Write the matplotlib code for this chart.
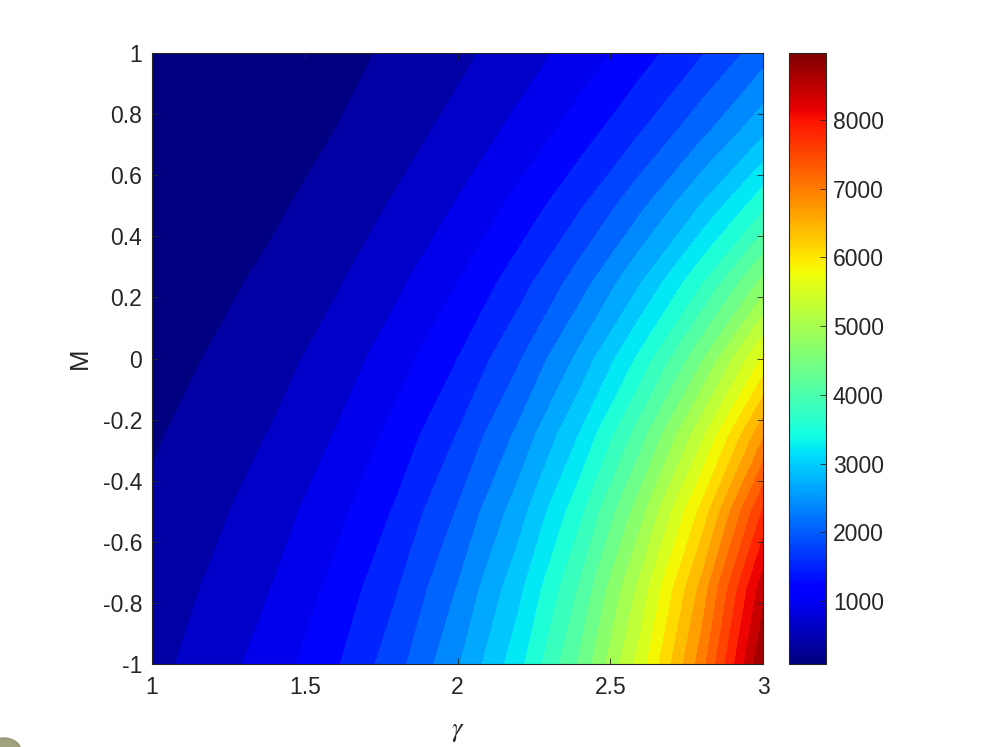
import numpy as np
import matplotlib.pyplot as plt
from matplotlib import cm, colors
from matplotlib.patches import Ellipse

plt.rcParams['font.family'] = ['Liberation Sans', 'DejaVu Sans']
plt.rcParams['axes.unicode_minus'] = False
plt.rcParams['mathtext.fontset'] = 'stix'

# grid of the contour map
gamma = [1.0, 1.2, 1.4, 1.6, 1.8, 2.0, 2.2, 2.4, 2.6, 2.8, 3.0]
m_vals = [-1.0, -0.75, -0.5, -0.25, 0.0, 0.25, 0.5, 0.75, 1.0]

# field values, one row per M value
z_m100 = [565, 805, 1090, 1475, 1980, 2630, 3424, 4432, 5670, 7130, 8975]
z_m075 = [489, 702, 957, 1308, 1777, 2389, 3152, 4131, 5343, 6780, 8574]
z_m050 = [412, 596, 819, 1133, 1556, 2112, 2818, 3726, 4856, 6200, 7858]
z_m025 = [337, 492, 683, 956, 1327, 1816, 2444, 3252, 4259, 5461, 6922]
z_000 = [267, 392, 553, 784, 1099, 1516, 2054, 2743, 3603, 4631, 5861]
z_p025 = [204, 302, 434, 624, 884, 1227, 1671, 2236, 2938, 3779, 4768]
z_p050 = [150, 224, 331, 484, 692, 966, 1319, 1764, 2314, 2974, 3739]
z_p075 = [109, 164, 248, 369, 533, 746, 1021, 1362, 1781, 2285, 2867]
z_p100 = [83, 125, 192, 288, 417, 585, 800, 1066, 1391, 1782, 2247]

n_levels = 30
x_ticks = [1, 1.5, 2, 2.5, 3]
x_labels = ['1', '1.5', '2', '2.5', '3']
y_ticks = [-1, -0.8, -0.6, -0.4, -0.2, 0, 0.2, 0.4, 0.6, 0.8, 1]
y_labels = ['-1', '-0.8', '-0.6', '-0.4', '-0.2', '0', '0.2', '0.4', '0.6', '0.8', '1']
cbar_ticks = [1000, 2000, 3000, 4000, 5000, 6000, 7000, 8000]

Z = np.array([z_m100, z_m075, z_m050, z_m025, z_000,
              z_p025, z_p050, z_p075, z_p100], dtype=float)
zmin, zmax = Z.min(), Z.max()
levels = np.linspace(zmin, zmax, n_levels + 2)
cmap = plt.get_cmap('jet')
# matlab style: each band takes the colour of its lower level
band_colors = [cmap((lv - zmin) / (zmax - zmin)) for lv in levels[:-1]]

edge = '#262626'
fig = plt.figure(figsize=(9.96, 7.47), dpi=100)
ax = fig.add_axes([152 / 996, 83 / 747, 611 / 996, 611 / 747])
ax.contourf(gamma, m_vals, Z, levels=levels, colors=band_colors)
ax.set_xlim(1, 3)
ax.set_ylim(-1, 1)
ax.set_xticks(x_ticks)
ax.set_xticklabels(x_labels)
ax.set_yticks(y_ticks)
ax.set_yticklabels(y_labels)
ax.tick_params(direction='in', top=True, right=True, length=4.4, width=0.6,
               color=edge, labelcolor=edge, labelsize=16.5)
ax.tick_params(axis='x', pad=9)
ax.tick_params(axis='y', pad=7)
for s in ax.spines.values():
    s.set_color(edge)
    s.set_linewidth(0.8)
ax.set_xlabel(r'$\gamma$', fontsize=19, color=edge, labelpad=15)
ax.set_ylabel('M', fontsize=18.5, color=edge, labelpad=8)

cax = fig.add_axes([789 / 996, 83 / 747, 37 / 996, 611 / 747])
sm = cm.ScalarMappable(norm=colors.Normalize(zmin, zmax), cmap=cmap)
cb = fig.colorbar(sm, cax=cax, ticks=cbar_ticks)
cb.ax.tick_params(direction='in', length=4.4, width=0.6, color=edge,
                  labelcolor=edge, labelsize=16.5, pad=5)
cb.outline.set_edgecolor(edge)
cb.outline.set_linewidth(0.8)

# small olive blob in the bottom left corner of the screenshot
fig.patches.append(Ellipse((4 / 996, -4 / 747), 34 / 996, 26 / 747,
                           transform=fig.transFigure, color='#8a8a60',
                           alpha=0.8, figure=fig))

fig.savefig('out.png', dpi=100)
